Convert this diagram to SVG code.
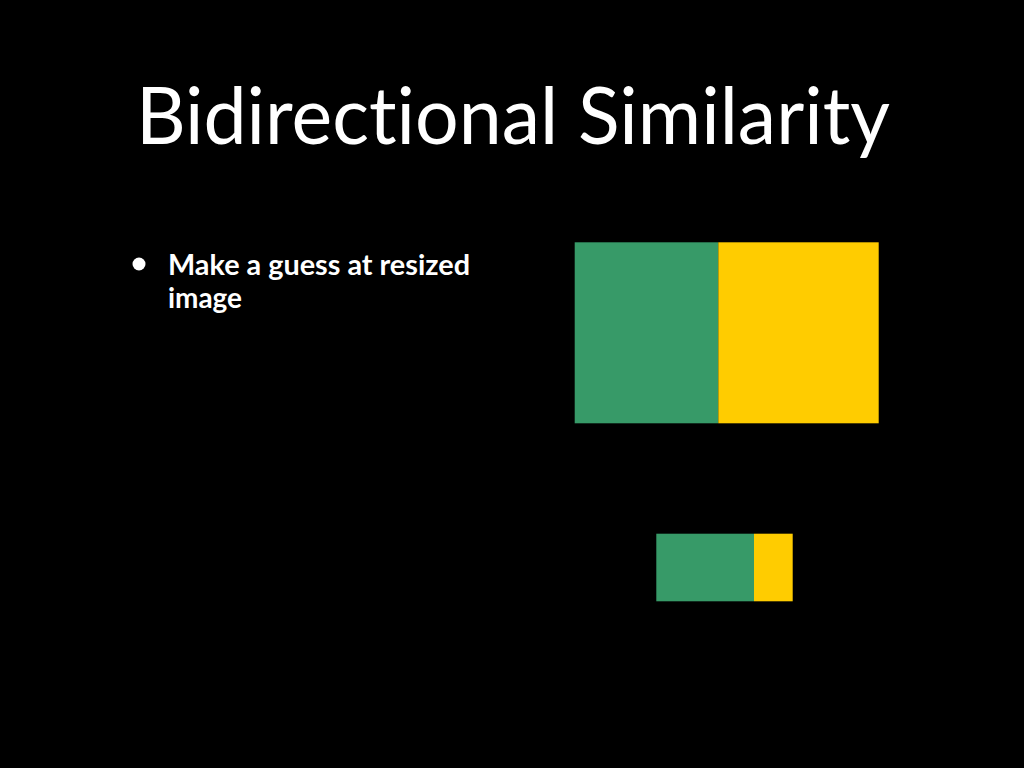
<svg xmlns="http://www.w3.org/2000/svg" width="1024" height="768" viewBox="0 0 1024 768">
<style>
.t{font-family:Lato,"Open Sans","Liberation Sans",sans-serif;fill:#fff;font-variant-ligatures:none}
.b{font-weight:bold}
.g{fill:#379A68}
.y{fill:#FFCC00}
</style>
<rect width="1024" height="768" fill="#000"/>
<text class="t" x="136" y="144" font-size="80" textLength="754" lengthAdjust="spacingAndGlyphs">Bidirectional Similarity</text>
<g id="bullet">
<circle cx="139" cy="264" r="6.5" fill="#fff"/>
<text class="t b" x="168" y="275" font-size="29" textLength="302" lengthAdjust="spacingAndGlyphs">Make a guess at resized</text>
<text class="t b" x="168" y="308" font-size="29" textLength="74" lengthAdjust="spacingAndGlyphs">image</text>
</g>
<g id="large-image">
<rect class="g" x="574.7" y="242.3" width="143.6" height="181"/>
<rect class="y" x="718.3" y="242.3" width="160.4" height="181"/>
</g>
<g id="small-image">
<rect class="g" x="656.3" y="533.7" width="97.7" height="67.6"/>
<rect class="y" x="754" y="533.7" width="38.7" height="67.6"/>
</g>
</svg>
